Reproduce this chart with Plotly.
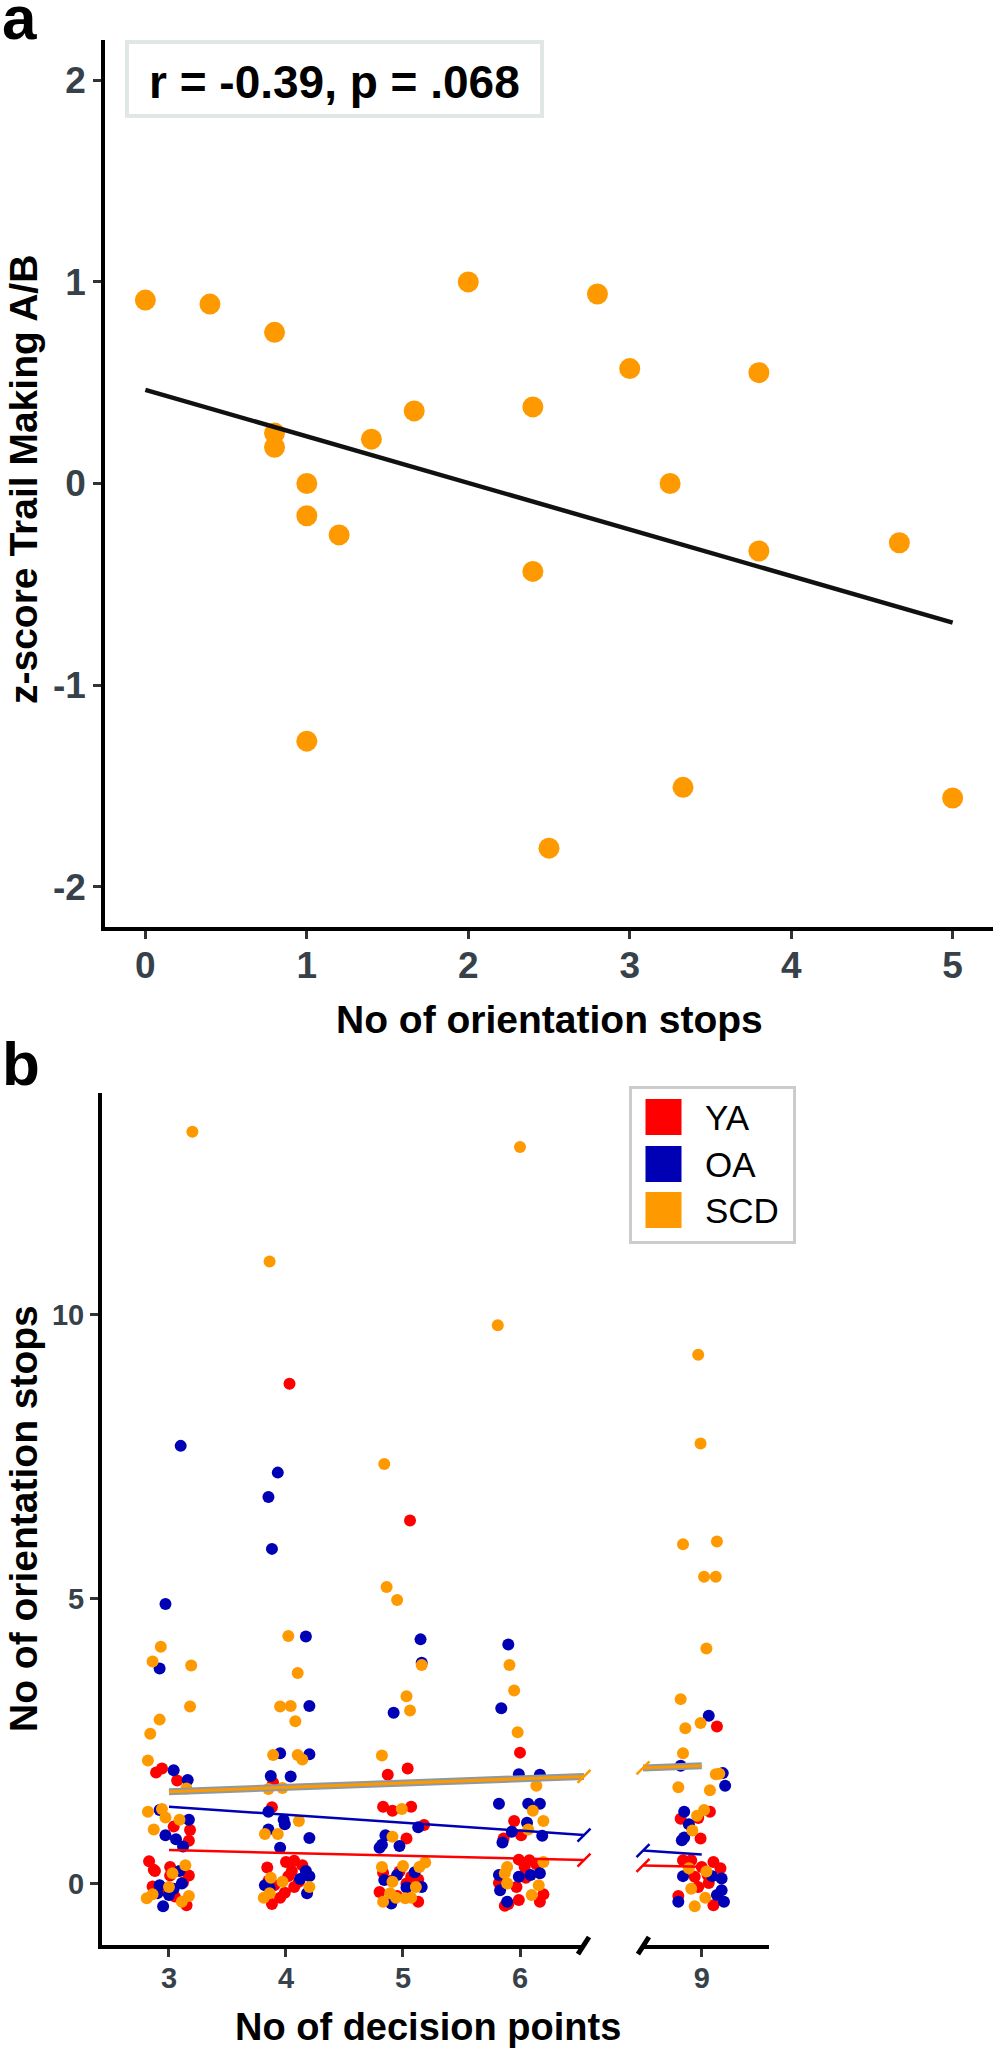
import numpy as np
import plotly.graph_objects as go

# ---------------- Panel a data ----------------
a_stops = [0.0, 0.4, 0.8, 2.0, 2.8, 3.0, 3.8, 1.665, 2.4, 1.4, 0.8, 0.8, 1.0, 3.25,
           1.0, 1.2, 2.4, 3.8, 4.67, 1.0, 3.33, 2.5, 5.0]
a_zscore = [0.91, 0.89, 0.75, 1.0, 0.94, 0.57, 0.55, 0.36, 0.38, 0.22, 0.25, 0.18, 0.0, 0.0,
            -0.16, -0.255, -0.436, -0.335, -0.294, -1.278, -1.507, -1.809, -1.56]
a_note = "r = -0.39, p = .068"
a_xticks = [0, 1, 2, 3, 4, 5]
a_yticks = [-2, -1, 0, 1, 2]
a_yticktext = ["-2", "-1", "0", "1", "2"]

# ---------------- Panel b data ----------------
groups = ["YA", "OA", "SCD"]
colors = {"YA": "#FF0000", "OA": "#0000B4", "SCD": "#FF9900"}

ya_x = [2.89, 2.94, 3.07, 3.04, 3.18, 3.17, 2.83, 2.88, 3.01, 3.01, 3.17, 2.86, 3.05, 3.15, 3.12, 2.95, 3.0, 2.87,
        4.03, 3.89, 3.88, 4.0, 4.07, 4.14, 3.84, 4.02, 3.90, 4.11, 4.07, 3.99, 3.88, 4.05, 3.85, 3.95,
        5.06, 4.87, 5.04, 4.83, 4.91, 5.07, 5.18, 5.03, 4.83, 4.97, 5.07, 5.13, 4.80, 5.13, 5.03, 4.90, 4.95,
        6.0, 5.95, 6.01, 5.86, 5.99, 6.08, 6.14, 6.04, 5.82, 5.97, 6.20, 5.99, 6.17, 5.87, 5.90, 6.05,
        9.13, 9.07, 8.82, 8.97, 8.99, 8.84, 8.91, 9.10, 9.16, 9.0, 8.94, 9.06, 8.97, 8.80, 9.10, 9.05]
ya_y = [1.95, 2.02, 1.81, 1.00, 0.94, 0.75, 0.39, 0.22, 0.29, 0.14, 0.14, -0.05, -0.23, -0.38, 0.02, -0.12, -0.14, 0.24,
        8.78, 1.77, 1.34, 0.38, 0.40, 0.32, 0.28, 0.13, -0.03, 0.03, -0.06, -0.16, -0.36, 0.22, 0.05, -0.25,
        6.38, 1.91, 2.02, 1.35, 1.28, 1.35, 1.03, 0.79, 0.19, 0.21, 0.12, 0.07, -0.15, -0.32, 0.0, 0.05, -0.22,
        2.30, 1.10, 0.85, 0.79, 0.42, 0.41, 0.34, 0.29, 0.01, -0.06, -0.19, -0.29, -0.32, -0.39, -0.36, 0.10,
        2.76, 1.26, 1.14, 1.15, 0.79, 0.41, 0.41, 0.38, 0.27, 0.29, 0.12, 0.01, -0.06, -0.22, -0.38, 0.15]

oa_x = [3.10, 2.97, 2.92, 3.04, 3.16, 2.92, 3.17, 2.97, 3.06, 3.12, 3.09, 2.92, 3.11, 2.95, 2.90, 3.04, 3.0,
        3.93, 3.85, 3.88, 4.17, 4.20, 3.95, 4.20, 3.87, 4.04, 3.85, 3.98, 3.99, 3.85, 4.20, 3.95, 4.17, 4.20, 3.82, 4.18, 3.86, 4.12,
        5.15, 5.16, 4.92, 5.13, 4.85, 4.80, 4.82, 4.97, 4.84, 5.03, 5.16, 4.90, 4.95, 5.10,
        5.90, 5.84, 5.99, 6.17, 5.82, 6.07, 6.17, 6.06, 5.93, 6.19, 5.85, 5.82, 5.99, 6.09, 6.17, 5.83, 5.89,
        9.06, 8.82, 9.18, 9.20, 8.85, 8.89, 8.83, 8.85, 8.84, 9.09, 9.17, 9.17, 9.13, 8.80, 9.19]
oa_y = [7.69, 4.91, 3.78, 1.99, 1.82, 1.29, 1.12, 0.85, 0.78, 0.65, 0.22, -0.03, 0.0, -0.40, -0.17, -0.09, -0.20,
        7.22, 6.79, 5.88, 4.34, 3.12, 2.29, 2.27, 1.89, 1.88, 1.26, 1.12, 1.04, 0.95, 0.80, 0.63, 0.22, 0.13, -0.03, -0.17, -0.08, 0.08,
        4.29, 3.88, 3.0, 0.99, 0.85, 0.63, 0.68, 0.66, 0.06, -0.07, -0.06, -0.35, 0.15, 0.20,
        4.20, 3.08, 1.92, 1.91, 1.40, 1.40, 1.40, 1.07, 0.91, 0.84, 0.72, 0.15, 0.12, 0.15, 0.18, -0.12, -0.32,
        2.95, 2.07, 1.94, 1.72, 1.26, 1.04, 0.76, 0.81, 0.13, 0.13, 0.09, -0.12, -0.20, -0.32, -0.32]

scd_x = [3.20, 2.93, 2.86, 3.19, 3.18, 2.92, 2.84, 2.82, 3.15, 2.82, 2.94, 2.97, 3.09, 2.87, 3.14, 3.03, 2.81, 2.86, 3.11, 3.17, 3.0,
         3.86, 4.02, 4.10, 3.95, 4.04, 4.08, 3.89, 4.10, 4.14, 3.85, 3.97, 4.11, 3.82, 3.93, 3.87, 3.97, 4.20, 3.81, 3.86,
         4.84, 4.86, 4.95, 5.16, 5.03, 5.06, 4.82, 4.99, 4.91, 4.82, 5.0, 5.14, 5.19, 4.91, 5.11, 4.89, 4.94, 5.02, 4.83, 5.07,
         6.0, 5.81, 5.91, 5.95, 5.98, 6.14, 6.11, 6.20, 6.07, 6.20, 5.89, 5.87, 5.89, 6.16, 6.10,
         8.97, 8.99, 8.84, 9.13, 9.02, 9.12, 9.04, 8.82, 8.99, 8.86, 8.84, 9.12, 9.15, 8.80, 9.07, 9.02, 8.96, 8.92,
         8.89, 9.04, 8.91, 9.03, 8.94]
scd_y = [13.21, 4.16, 3.90, 3.83, 3.11, 2.88, 2.63, 2.16, 1.67, 1.26, 1.31, 1.16, 1.12, 0.95, 0.32, 0.18, -0.26, -0.19, -0.32, -0.22, -0.06,
         10.93, 4.35, 3.70, 3.11, 3.12, 2.85, 2.26, 2.26, 2.18, 1.66, 1.68, 1.10, 0.87, 0.87, 0.10, 0.03, -0.06, -0.25, -0.17,
         7.37, 5.21, 4.98, 3.84, 3.29, 3.04, 2.25, 1.31, 0.82, 0.29, 0.31, 0.29, 0.37, 0.03, -0.06, -0.17, -0.25, -0.26, -0.32, -0.25,
         12.94, 9.81, 3.84, 3.39, 2.66, 1.72, 1.28, 1.10, 0.95, 0.38, 0.29, 0.18, 0.0, -0.03, -0.20,
         9.29, 7.73, 5.96, 6.01, 5.39, 5.39, 4.13, 3.24, 2.82, 2.73, 2.29, 1.92, 1.93, 1.69, 1.64, 1.29, 1.19, 0.93,
         0.27, 0.21, -0.09, -0.25, -0.40]

# fitted lines (intercept, slope) per group
fit_intercept = {"YA": 0.734, "OA": 1.769, "SCD": 1.385}
fit_slope = {"YA": -0.049, "OA": -0.140, "SCD": 0.076}
fit_x_range = [3, 9]
break_range = [6.547, 8.498]          # broken x axis: gap between these values
b_xticks_left = [3, 4, 5, 6]
b_xticks_right = [9]
b_yticks = [0, 5, 10]

# ---------------- Layout helpers ----------------
W, H = 995, 2048
def fx(px): return px / W
def fy(py): return 1 - py / H

FONT = "Liberation Sans, Arial, sans-serif"
TICKCOL = "#37414a"

fig = go.Figure()

# Panel a
fig.add_trace(go.Scatter(x=a_stops, y=a_zscore, mode="markers", xaxis="x", yaxis="y",
                         marker=dict(size=21, color=colors["SCD"]), showlegend=False, cliponaxis=False))
slope, intercept = np.polyfit(a_stops, a_zscore, 1)
lx = np.array([min(a_stops), max(a_stops)])
fig.add_trace(go.Scatter(x=lx, y=intercept + slope * lx, mode="lines", xaxis="x", yaxis="y",
                         line=dict(color="#111111", width=4.5), showlegend=False))

# Panel b points
pts = {"YA": (ya_x, ya_y), "OA": (oa_x, oa_y), "SCD": (scd_x, scd_y)}
for g in groups:
    xs, ys = np.array(pts[g][0]), np.array(pts[g][1])
    left = xs < break_range[0]
    for mask, xa in ((left, "x2"), (~left, "x3")):
        fig.add_trace(go.Scatter(x=xs[mask], y=ys[mask], mode="markers", xaxis=xa, yaxis="y2",
                                 marker=dict(size=12, color=colors[g]), showlegend=False, cliponaxis=False))

# Panel b fit lines
for g in ["YA", "OA", "SCD"]:
    segs = [([fit_x_range[0], break_range[0]], "x2", 1), ([break_range[1], fit_x_range[1]], "x3", 0)]
    for (xx, xa, endi) in segs:
        xx = np.array(xx)
        yy = fit_intercept[g] + fit_slope[g] * xx
        if g == "SCD":
            fig.add_trace(go.Scatter(x=xx, y=yy, mode="lines", xaxis=xa, yaxis="y2",
                                     line=dict(color="#8e99a2", width=7), showlegend=False))
        fig.add_trace(go.Scatter(x=xx, y=yy, mode="lines", xaxis=xa, yaxis="y2",
                                 line=dict(color=colors[g], width=3 if g == "SCD" else 2.5), showlegend=False))
        fig.add_trace(go.Scatter(x=[xx[endi]], y=[yy[endi]], mode="markers", xaxis=xa, yaxis="y2",
                                 marker=dict(symbol="line-ne", size=13,
                                             line=dict(color=colors[g], width=2.5)),
                                 showlegend=False, cliponaxis=False))

axis_common = dict(showline=True, linecolor="black", linewidth=3.5, ticks="outside", ticklen=8,
                   tickwidth=3, tickcolor="#333333", showgrid=False, zeroline=False,
                   tickfont=dict(family=FONT, size=37, color=TICKCOL, weight="bold"))
b_common = dict(axis_common)
b_common["tickfont"] = dict(family=FONT, size=29, color=TICKCOL, weight="bold")

fig.update_layout(
    width=W, height=H, autosize=False, margin=dict(l=0, r=0, t=0, b=0),
    paper_bgcolor="white", plot_bgcolor="white", showlegend=False,
    xaxis=dict(domain=[fx(105), fx(993)], anchor="y", range=[-0.25, 5.25], tickvals=a_xticks,
               ticklabelstandoff=-5, **axis_common),
    yaxis=dict(domain=[fy(927), fy(40)], anchor="x", range=[-2.2, 2.2], tickvals=a_yticks,
               ticktext=a_yticktext, **axis_common),
    xaxis2=dict(domain=[fx(101.7), fx(584)], anchor="y2",
                range=[2.425, break_range[0]], tickvals=b_xticks_left, ticklabelstandoff=-4, **b_common),
    xaxis3=dict(domain=[fx(643), fx(769)], anchor="y2",
                range=[break_range[1], 9.575], tickvals=b_xticks_right, ticklabelstandoff=-4, **b_common),
    yaxis2=dict(domain=[fy(1945), fy(1093)], anchor="x2", range=[-1.08, 13.89], tickvals=b_yticks, **b_common),
)

shapes = []
# axis break marks
shapes.append(dict(type="line", xref="x2 domain", yref="y2 domain", x0=0.9875, x1=1.0104,
                   y0=-0.0106, y1=0.0094, line=dict(color="black", width=5)))
shapes.append(dict(type="line", xref="x3 domain", yref="y2 domain", x0=-0.04, x1=0.047,
                   y0=-0.0106, y1=0.0094, line=dict(color="black", width=5)))
# r/p label box
shapes.append(dict(type="rect", xref="paper", yref="paper", x0=fx(127), x1=fx(542), y0=fy(116), y1=fy(42),
                   line=dict(color="#dfe7e7", width=4), fillcolor="white", layer="below"))
# legend box + keys
shapes.append(dict(type="rect", xref="paper", yref="paper", x0=fx(630.5), x1=fx(794.5), y0=fy(1242.5), y1=fy(1087.5),
                   line=dict(color="#cccccc", width=3), fillcolor="white", layer="above"))
key_centers = [1117, 1164, 1210]
for g, cy in zip(groups, key_centers):
    shapes.append(dict(type="rect", xref="paper", yref="paper", x0=fx(645.5), x1=fx(681.5),
                       y0=fy(cy + 18), y1=fy(cy - 18), line=dict(width=0), fillcolor=colors[g], layer="above"))
fig.update_layout(shapes=shapes)

ann = []
def txt(text, x, y, size, bold=True, xanchor="center", angle=0, color="black"):
    ann.append(dict(text=text, x=fx(x), y=fy(y), xref="paper", yref="paper", showarrow=False,
                    xanchor=xanchor, yanchor="middle", textangle=angle,
                    font=dict(family=FONT, size=size, color=color, weight="bold" if bold else "normal")))

txt("a", 0, 17, 62, xanchor="left")
txt("b", 0, 1063.5, 62, xanchor="left")
txt(a_note, 334.5, 82, 46)
txt("No of orientation stops", 549, 1019, 39)
txt("z-score Trail Making A/B", 23, 480, 39, angle=-90)
txt("No of decision points", 428, 2026.5, 38)
txt("No of orientation stops", 23, 1519, 39, angle=-90)
for g, cy in zip(groups, key_centers):
    txt(g, 703, cy, 35, bold=False, xanchor="left")
fig.update_layout(annotations=ann)

fig.write_html("out.html")
